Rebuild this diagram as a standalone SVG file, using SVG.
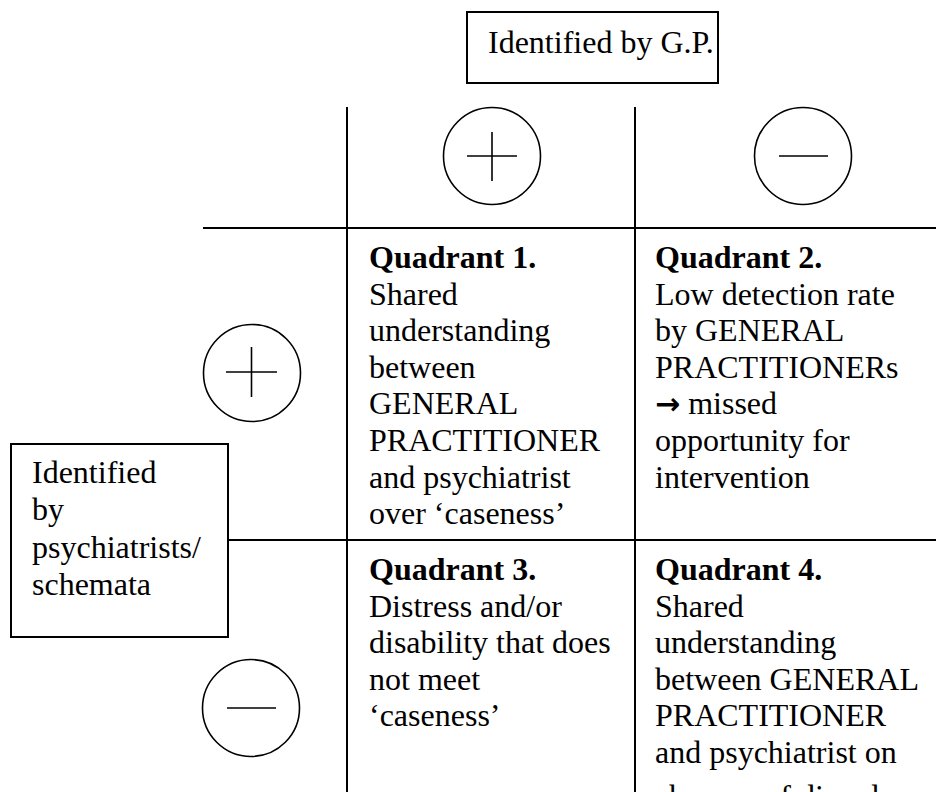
<svg xmlns="http://www.w3.org/2000/svg" width="936" height="792" viewBox="0 0 936 792">
<style>
text{font-family:"Liberation Serif","Times New Roman",serif;font-size:32px;fill:#000}
.b{font-weight:bold}
.arr{font-family:"DejaVu Sans",sans-serif;font-weight:bold;font-size:30px}
.ln{stroke:#000;stroke-width:2;fill:none}
.box{stroke:#000;stroke-width:2;fill:#fff}
.c{stroke:#000;stroke-width:1.6;fill:#fff}
.s{stroke:#000;stroke-width:1.6}
</style>
<g id="connectors">
<line class="ln" x1="347" y1="107" x2="347" y2="792"/>
<line class="ln" x1="635" y1="107" x2="635" y2="792"/>
<line class="ln" x1="203" y1="228" x2="936" y2="228"/>
<line class="ln" x1="203" y1="540" x2="936" y2="540"/>
</g>
<g id="top-label">
<rect class="box" x="467" y="12" width="251" height="71"/>
<text x="488" y="53">Identified by G.P.</text>
</g>
<g id="left-label">
<rect class="box" x="11" y="444" width="217" height="193"/>
<text x="32" y="483">Identified</text>
<text x="32" y="520">by</text>
<text x="32" y="558">psychiatrists/</text>
<text x="32" y="595">schemata</text>
</g>
<g id="col-plus">
<circle class="c" cx="492" cy="156" r="48.5"/>
<line class="s" x1="467" y1="156" x2="517" y2="156"/>
<line class="s" x1="492" y1="132" x2="492" y2="181"/>
</g>
<g id="col-minus">
<circle class="c" cx="803" cy="156" r="48.5"/>
<line class="s" x1="779" y1="156" x2="828" y2="156"/>
</g>
<g id="row-plus">
<circle class="c" cx="252" cy="373" r="48.5"/>
<line class="s" x1="226" y1="372" x2="277" y2="372"/>
<line class="s" x1="251.5" y1="347" x2="251.5" y2="397"/>
</g>
<g id="row-minus">
<circle class="c" cx="251" cy="708" r="48.5"/>
<line class="s" x1="227" y1="708" x2="276" y2="708"/>
</g>
<g id="quadrant1">
<text x="369" y="268"><tspan class="b">Quadrant 1.</tspan><tspan x="369" dy="36.6">Shared</tspan><tspan x="369" dy="36.6">understanding</tspan><tspan x="369" dy="36.6">between</tspan><tspan x="369" dy="36.6">GENERAL</tspan><tspan x="369" dy="36.6">PRACTITIONER</tspan><tspan x="369" dy="36.6">and psychiatrist</tspan><tspan x="369" dy="36.6">over ‘caseness’</tspan></text>
</g>
<g id="quadrant2">
<text x="655" y="268"><tspan class="b">Quadrant 2.</tspan><tspan x="655" dy="36.6">Low detection rate</tspan><tspan x="655" dy="36.6">by GENERAL</tspan><tspan x="655" dy="36.6">PRACTITIONERs</tspan><tspan x="655" dy="36.6" class="arr">→</tspan><tspan> missed</tspan><tspan x="655" dy="36.6">opportunity for</tspan><tspan x="655" dy="36.6">intervention</tspan></text>
</g>
<g id="quadrant3">
<text x="369" y="580"><tspan class="b">Quadrant 3.</tspan><tspan x="369" dy="36.6">Distress and/or</tspan><tspan x="369" dy="36.6">disability that does</tspan><tspan x="369" dy="36.6">not meet</tspan><tspan x="369" dy="36.6">‘caseness’</tspan></text>
</g>
<g id="quadrant4">
<text x="655" y="580"><tspan class="b">Quadrant 4.</tspan><tspan x="655" dy="36.6">Shared</tspan><tspan x="655" dy="36.6">understanding</tspan><tspan x="655" dy="36.6">between GENERAL</tspan><tspan x="655" dy="36.6">PRACTITIONER</tspan><tspan x="655" dy="36.6">and psychiatrist on</tspan><tspan x="655" dy="44">absence of disorder</tspan></text>
</g>
</svg>
